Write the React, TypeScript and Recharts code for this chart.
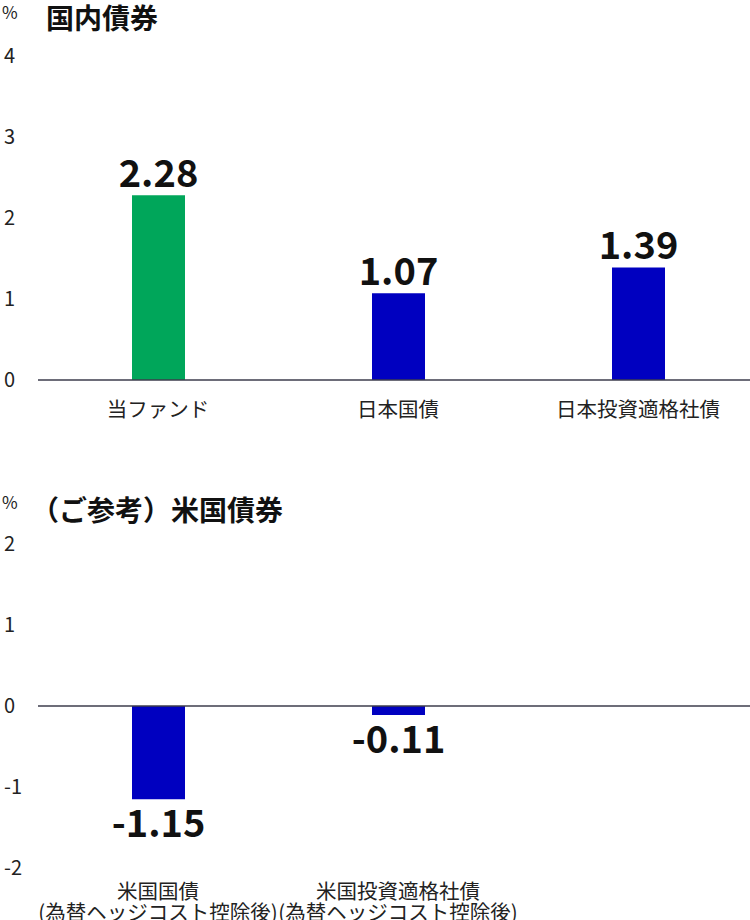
import React from 'react';
import { BarChart, Bar, XAxis, YAxis, Cell, LabelList, ReferenceLine } from 'recharts';

const domesticCategories = ['当ファンド', '日本国債', '日本投資適格社債'];
const domesticValues = [2.28, 1.07, 1.39];
const domesticTicks = [0, 1, 2, 3, 4];

const usCategories = ['米国国債\n(為替ヘッジコスト控除後)', '米国投資適格社債\n(為替ヘッジコスト控除後)', ''];
const usValues: (number | null)[] = [-1.15, -0.11, null];
const usTicks = [-2, -1, 0, 1, 2];

const FONT = '"Noto Sans CJK JP", "Noto Sans", sans-serif';
const GREEN = '#00A65A';
const BLUE = '#0000C0';
const AXIS = '#3c3c4c';

const domesticData = domesticCategories.map((name, i) => ({ name, value: domesticValues[i] }));
const usData = usCategories.map((name, i) => ({ name, value: usValues[i] }));

const YTick = (props: any) => {
  const { y, payload } = props;
  return (
    <text x={4} y={y} dy="0.36em" textAnchor="start" fontSize={20} fill="#222" fontFamily={FONT}>
      {payload.value}
    </text>
  );
};

const XTick = (props: any) => {
  const { x, y, payload, first = 22 } = props;
  const lines = String(payload.value).split('\n');
  return (
    <text x={x} y={y} textAnchor="middle" fontSize={20.5} fill="#222" fontFamily={FONT}>
      {lines.map((l, i) => (
        <tspan key={i} x={x} dy={i === 0 ? first : 21}>{l}</tspan>
      ))}
    </text>
  );
};

const ValueLabel = (props: any) => {
  const vb = props.viewBox || props;
  const { x, y, width, height } = vb;
  const value = props.value;
  if (value === null || value === undefined) return null;
  const top = Math.min(y, y + height);
  const bottom = Math.max(y, y + height);
  const ty = value >= 0 ? top - 8 : bottom + 38;
  return (
    <text x={x + width / 2} y={ty} textAnchor="middle" fontSize={38} fontWeight="bold" fill="#111" fontFamily={FONT}>
      {value.toFixed(2)}
    </text>
  );
};

const App = () => {
  return (
    <div style={{ position: 'absolute', left: 0, top: 0, width: 750, height: 920, overflow: 'hidden', fontFamily: FONT, background: '#fff' }}>
      <div style={{ position: 'absolute', left: 2, top: -1, fontSize: 17, color: '#222' }}>%</div>
      <div style={{ position: 'absolute', left: 46, top: -3, fontSize: 28, fontWeight: 'bold', color: '#111' }}>国内債券</div>
      <div style={{ position: 'absolute', left: 0, top: 0 }}>
        <BarChart width={758} height={430} data={domesticData} margin={{ top: 56, right: 0, left: 0, bottom: 10 }}>
          <XAxis dataKey="name" height={40} tick={<XTick first={29} />} tickLine={false} axisLine={{ stroke: AXIS, strokeWidth: 1.5 }} interval={0} />
          <YAxis width={38} domain={[0, 4]} ticks={domesticTicks} tick={<YTick />} axisLine={false} tickLine={false} />
          <Bar dataKey="value" barSize={53} isAnimationActive={false}>
            {domesticData.map((d, i) => (
              <Cell key={i} fill={i === 0 ? GREEN : BLUE} />
            ))}
            <LabelList dataKey="value" content={<ValueLabel />} />
          </Bar>
        </BarChart>
      </div>

      <div style={{ position: 'absolute', left: 2, top: 489, fontSize: 17, color: '#222' }}>%</div>
      <div style={{ position: 'absolute', left: 31, top: 489, fontSize: 28, fontWeight: 'bold', color: '#111' }}>（ご参考）米国債券</div>
      <div style={{ position: 'absolute', left: 0, top: 480 }}>
        <BarChart width={758} height={440} data={usData} margin={{ top: 64, right: 0, left: 0, bottom: 0 }}>
          <XAxis dataKey="name" height={52} tick={<XTick first={23} />} tickLine={false} axisLine={false} interval={0} />
          <YAxis width={38} domain={[-2, 2]} ticks={usTicks} tick={<YTick />} axisLine={false} tickLine={false} />
          <ReferenceLine y={0} stroke={AXIS} strokeWidth={1.5} />
          <Bar dataKey="value" barSize={53} fill={BLUE} isAnimationActive={false}>
            <LabelList dataKey="value" content={<ValueLabel />} />
          </Bar>
        </BarChart>
      </div>
    </div>
  );
};

export default App;
